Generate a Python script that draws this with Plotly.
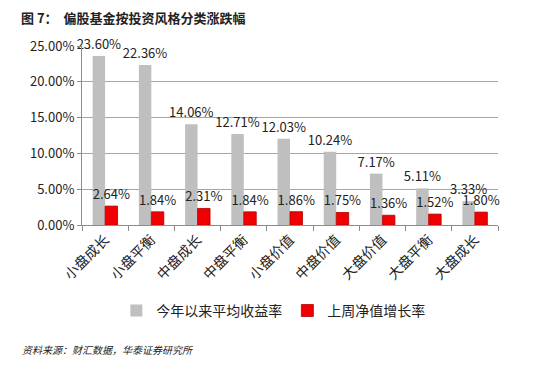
import plotly.graph_objects as go

categories = ["小盘成长", "小盘平衡", "中盘成长", "中盘平衡", "小盘价值", "中盘价值", "大盘价值", "大盘平衡", "大盘成长"]
ytd_return = [23.60, 22.36, 14.06, 12.71, 12.03, 10.24, 7.17, 5.11, 3.33]
week_growth = [2.64, 1.84, 2.31, 1.84, 1.86, 1.75, 1.36, 1.52, 1.80]
series_names = ["今年以来平均收益率", "上周净值增长率"]
y_ticks = [0, 5, 10, 15, 20, 25]

FONT = "Noto Sans CJK SC, Microsoft YaHei, sans-serif"

fig = go.Figure()
fig.add_trace(go.Bar(
    x=categories, y=ytd_return, name=series_names[0],
    marker=dict(color="#BFBFBF", line=dict(width=0)),
    text=[f"{v:.2f}%" for v in ytd_return], textposition="outside",
    constraintext="none",
    textfont=dict(size=13, color="#222222", family=FONT), cliponaxis=False,
))
fig.add_trace(go.Bar(
    x=categories, y=week_growth, name=series_names[1],
    marker=dict(color="#F00000", line=dict(width=0.8, color="#B00000")),
    text=[f"{v:.2f}%" for v in week_growth], textposition="outside",
    constraintext="none",
    textfont=dict(size=13, color="#222222", family=FONT), cliponaxis=False,
))

fig.update_layout(
    width=550, height=380,
    margin=dict(l=74, r=60, t=38, b=163),
    paper_bgcolor="white", plot_bgcolor="white",
    barmode="group", bargap=0.46, bargroupgap=0.0,
    font=dict(family=FONT, color="#222222"),
    legend=dict(orientation="h", x=0.46, xanchor="center", y=-0.48, yanchor="middle",
                font=dict(size=14, family=FONT, color="#222222"), itemwidth=30,
                traceorder="normal", tracegroupgap=0),
)
fig.update_yaxes(
    range=[0, 25], tickvals=y_ticks, ticktext=[f"{v:.2f}%" for v in y_ticks],
    showgrid=True, gridcolor="#A6A6A6", gridwidth=1.2,
    showline=True, linecolor="#8C8C8C", linewidth=1,
    ticks="outside", ticklen=4, tickcolor="#8C8C8C",
    tickfont=dict(size=13, color="#222222", family=FONT), zeroline=False,
)
fig.update_xaxes(
    showline=True, linecolor="#8C8C8C", linewidth=1.2,
    ticks="outside", ticklen=5, tickcolor="#8C8C8C", tickson="boundaries",
    tickangle=-45, tickfont=dict(size=14, color="#222222", family=FONT),
)
fig.add_annotation(
    text="<b>图 7：  偏股基金按投资风格分类涨跌幅</b>", xref="paper", yref="paper",
    x=-0.151, y=1.16, xanchor="left", yanchor="middle", showarrow=False,
    font=dict(size=13, color="#222222", family=FONT),
)
fig.add_annotation(
    text="<i>资料来源：财汇数据，华泰证券研究所</i>", xref="paper", yref="paper",
    x=-0.149, y=-0.698, xanchor="left", yanchor="middle", showarrow=False,
    font=dict(size=10, color="#222222", family=FONT),
)
fig.write_html("out.html")
